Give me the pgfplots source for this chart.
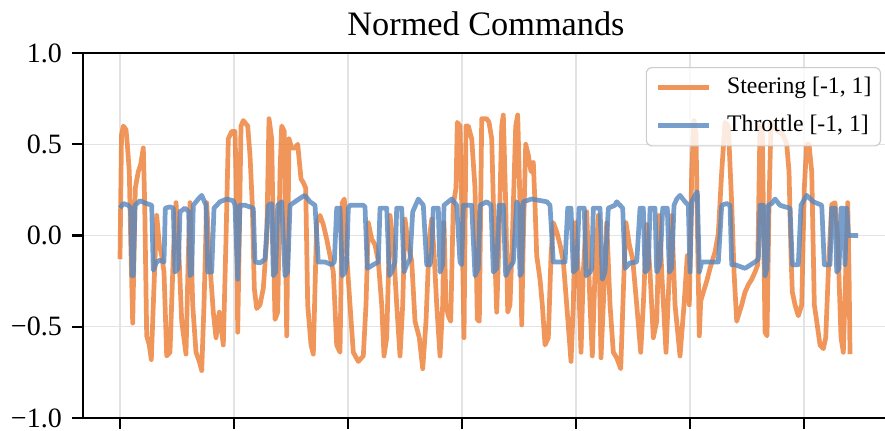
\documentclass[border=0pt]{standalone}
\usepackage{fontspec}
\setmainfont{Liberation Serif}
\usepackage{pgfplots}
\pgfplotsset{compat=1.18}

\definecolor{steer}{RGB}{236,124,49}
\definecolor{throt}{RGB}{86,134,191}

\begin{document}
\begin{tikzpicture}
% visible window of the figure
\useasboundingbox (-29.05pt,-4.2pt) rectangle (280.7pt,146.3pt);
\clip (-29.05pt,-4.2pt) rectangle (280.7pt,146.3pt);
\begin{axis}[
  at={(0pt,0pt)}, anchor=south west,
  scale only axis,
  width=284.9pt, height=127.75pt,
  xmin=-37, xmax=777,
  ymin=-1, ymax=1,
  xtick={0,114,228,342,456,570,684},
  xticklabels={},
  ytick={-1,-0.5,0,0.5,1},
  yticklabels={−1.0,−0.5,0.0,0.5,1.0},
  tick pos=left,
  tick align=outside,
  major tick length=3.9pt,
  every tick/.style={black, line width=0.8pt},
  axis line style={black, line width=0.8pt},
  yticklabel style={font=\fontsize{9.8}{12}\selectfont},
  grid=major,
  major grid style={black!11, line width=0.4pt},
  title={Normed Commands},
  every axis title shift=0pt,
  title style={at={(0,1)}, anchor=base, xshift=141.05pt, yshift=6.3pt,
    font=\fontsize{12}{14}\selectfont},
  legend style={at={(0,1)}, anchor=north east, xshift=279.3pt, yshift=-4.9pt,
    draw=black!20, fill=white, fill opacity=0.8, text opacity=1,
    rounded corners=2pt, line width=0.4pt,
    font=\fontsize{8.3}{10}\selectfont,
    inner xsep=3.15pt, inner ysep=3.2pt, row sep=5.6pt, column sep=5.6pt,
    nodes={inner sep=0pt, text height=6pt, text depth=1.7pt}},
  legend cell align=left,
  legend image code/.code={\draw[#1] (0pt,0pt) -- (17.9pt,0pt);},
  every axis plot/.append style={line width=1.65pt, line join=round, opacity=0.8},
]
\addplot[steer] coordinates {
(0,-0.13) (1.5,0.55) (3.3,0.60) (6,0.58) (7.3,0.50) (9.3,0.35) (10.7,-0.02)
(12.7,-0.48) (14,-0.11) (15.3,0.26) (18.3,0.35) (20.7,0.39) (23.3,0.48)
(24.7,0.17) (26.7,-0.55) (29.3,-0.60) (31.3,-0.68) (33.3,-0.38) (36.7,0.11)
(39.3,-0.05) (41.7,-0.11) (44,-0.20) (46.7,-0.66) (50,-0.64) (53.3,-0.11)
(56,0.18) (58.3,-0.02) (61.7,-0.47) (66,-0.65) (68.3,-0.11) (70,0.18)
(72.7,-0.38) (76,-0.64) (79.3,-0.69) (81.7,-0.74) (84,-0.38) (86.7,0.18)
(89.3,-0.11) (93.3,-0.42) (96,-0.56) (99.3,-0.42) (103.3,-0.60) (106,-0.02)
(108.3,0.53) (111.7,0.57) (115,0.57) (116.7,0.17) (117.7,-0.53) (119,-0.11)
(121,0.60) (123.3,0.63) (127.7,0.60) (130,0.44) (132.3,0.17) (134.3,-0.29)
(136.7,-0.40) (140,-0.38) (143.3,-0.29) (146.7,-0.02) (149,0.64) (151.7,0.53)
(153.3,-0.02) (155,-0.46) (157.7,-0.42) (160,0.35) (161.7,0.60) (164.3,0.57)
(166.7,-0.55) (169,0.53) (171.7,0.48) (175,0.48) (177.7,0.50) (181,0.31)
(183.3,0.29) (185.7,0.26) (187.7,-0.38) (191,-0.60) (193.3,-0.65) (196.7,0.07)
(200,0.11) (203.3,0.06) (206.7,-0.02) (210,-0.11) (213.3,-0.20) (216.7,-0.60)
(220,-0.64) (222.3,0.18) (224.3,0.20) (226.7,-0.11) (230,-0.38) (233.3,-0.64)
(238.3,-0.69) (243.3,-0.66) (246,-0.38) (248.3,0.07) (251.7,-0.02) (255,-0.05)
(258.3,-0.14) (261.7,-0.38) (264,-0.66) (266.7,-0.56) (270,0.11) (273.3,-0.05)
(276.7,-0.38) (280,-0.66) (282.7,-0.38) (285,0.09) (288.3,-0.05) (291.7,-0.14)
(295,-0.47) (299.3,-0.56) (302.7,-0.73) (306,-0.47) (309.3,-0.02) (311.7,0.09)
(314,-0.09) (316.7,-0.38) (320,-0.66) (322.7,-0.38) (324,0.07) (326,-0.38)
(328.3,-0.44) (330.7,-0.47) (333.3,0.17) (336,0.26) (337.3,0.62) (340,0.60)
(341.7,0.17) (344,-0.56) (346,0.60) (348.3,0.60) (351.7,0.53) (355,0.26)
(357.3,-0.46) (359.3,-0.47) (360.7,0.17) (361.7,0.64) (366.7,0.64) (369,0.62)
(371.7,0.53) (374.3,-0.02) (376.7,-0.42) (379,-0.02) (381.7,0.60) (383.3,0.66)
(385.7,0.17) (387.7,-0.42) (390,-0.38) (392.3,-0.02) (395.7,0.60) (397.7,0.66)
(400,0.17) (401.7,-0.49) (403.3,-0.02) (405.7,0.50) (408.3,0.44) (411,0.35)
(413.3,0.40) (415,0.17) (416.7,-0.11) (420,-0.24) (422.3,-0.38) (425,-0.60)
(428.3,-0.56) (431,-0.11) (433.3,0.07) (436.7,0.02) (440,-0.05) (443.3,-0.14)
(446.7,-0.38) (451,-0.69) (453.3,-0.38) (455,0.07) (458.3,-0.20) (461,-0.64)
(463.3,-0.20) (466.7,0.13) (470,-0.38) (472.3,-0.66) (475,-0.20) (478.3,0.11)
(481,-0.67) (483.3,-0.38) (486.7,0.07) (490,-0.38) (493.3,-0.64) (496.7,-0.67)
(500.7,-0.73) (504,-0.20) (506,0.07) (509.3,-0.05) (512.7,-0.13) (516.7,-0.38)
(520.7,-0.64) (523.3,-0.38) (526.7,0.06) (530,-0.20) (533.3,-0.56) (536.7,-0.47)
(539.3,0.11) (541.7,-0.20) (546,-0.64) (549.3,-0.20) (551.7,0.11) (555,-0.38)
(560,-0.66) (564,-0.38) (567.3,-0.11) (569.3,-0.38) (571.7,0.35) (574,0.63)
(576,0.55) (577.3,0.07) (579.3,-0.55) (580.7,-0.36) (583.3,-0.31) (586.7,-0.25)
(590,-0.18) (595,-0.09) (598.3,0.01) (601.7,0.35) (605,0.62) (608.3,0.60)
(611.7,0.17) (614,-0.20) (616.7,-0.47) (618.3,-0.44) (621.7,-0.38) (625,-0.31)
(628.3,-0.27) (631.7,-0.24) (635,-0.20) (637.7,-0.16) (640,0.60) (642.3,0.57)
(645,-0.53) (647,-0.55) (649,0.17) (651,0.62) (653.3,0.60) (658.3,0.57)
(663.3,0.55) (666.7,0.50) (669,0.35) (671,-0.11) (672.3,-0.31) (675,-0.38)
(678.3,-0.44) (681.7,-0.38) (684.3,0.26) (686.7,0.50) (689,0.50) (691.7,0.35)
(694.3,-0.38) (696.7,-0.47) (700,-0.60) (703.3,-0.62) (705.7,-0.56) (708.3,-0.20)
(711.7,0.17) (715,0.18) (717.7,-0.02) (721,-0.56) (723.3,-0.64) (725.7,-0.20)
(727.7,0.18) (729,-0.20) (730,-0.65)
};
\addlegendentry{Steering [-1, 1]}
\addplot[throt] coordinates {
(0,0.15) (3.3,0.175) (8.3,0.166) (10.7,0.15) (12,-0.22) (13.3,-0.22) (15,0.166)
(20,0.19) (26.7,0.175) (31.7,0.166) (33.3,-0.19) (36.7,-0.145) (40,-0.135)
(44,-0.145) (45.3,0.15) (50,0.157) (53.3,0.15) (55,-0.20) (58.3,-0.18) (60,0.13)
(65,0.15) (68.7,0.13) (70,-0.22) (71.7,-0.21) (73.3,0.166) (78.3,0.20)
(81.7,0.22) (86,0.166) (87.7,-0.20) (91.7,-0.20) (94,0.15) (100,0.185)
(106.7,0.20) (113.3,0.19) (115,0.166) (117.7,-0.24) (120,0.166) (125,0.166)
(133.3,0.15) (135,-0.145) (140,-0.15) (145,-0.13) (148.3,0.166) (151.7,0.175)
(153.3,-0.22) (155.7,-0.20) (157.7,0.166) (161.7,0.185) (165,-0.22) (167.7,-0.20)
(170,0.166) (175,0.185) (181.7,0.21) (185,0.22) (190,0.185) (195,0.166)
(198.3,-0.145) (205,-0.145) (211.7,-0.16) (214.3,-0.145) (216.7,0.15) (220,0.15)
(222.3,-0.22) (225,-0.20) (226.7,-0.145) (228.3,0.15) (230,0.166) (243.3,0.166)
(245,0.157) (247.3,-0.18) (253.3,-0.16) (258.3,-0.145) (260,0.15) (266.7,0.15)
(269.3,-0.22) (271.7,-0.20) (275,-0.145) (276.7,0.15) (281.7,0.15) (284,-0.20)
(286.7,-0.16) (290,-0.13) (292.7,0.13) (298.3,0.20) (303.3,0.166) (306.7,-0.16)
(310,-0.16) (311.7,-0.09) (313.3,0.15) (318.3,0.15) (320,-0.20) (322.7,-0.16)
(324,0.166) (328.3,0.185) (331.7,0.20) (336.7,0.166) (340,-0.145) (341.7,-0.16)
(343.3,0.166) (351.7,0.166) (355,-0.22) (358.3,-0.18) (360,0.166) (366.7,0.185)
(371,0.166) (373.3,-0.20) (376.7,-0.18) (379,0.166) (383.3,0.166) (385.7,-0.22)
(389,-0.18) (393.3,-0.145) (396.7,0.185) (398.3,0.166) (400,-0.22) (401.7,-0.20)
(403.3,0.185) (411.7,0.20) (421.7,0.19) (426.7,0.185) (430,0.166) (433.3,-0.145)
(440,-0.145) (445,-0.145) (447.7,0.15) (451,0.15) (453.3,-0.20) (456.7,-0.18)
(459,0.15) (464.3,0.15) (466,-0.22) (470,-0.20) (471.7,-0.18) (473.3,0.15)
(480,0.15) (482.3,-0.24) (485,-0.20) (488.3,0.15) (495,0.166) (496.7,0.185)
(502.7,0.15) (505,-0.18) (510,-0.15) (516.7,-0.145) (520,0.15) (523.3,0.15)
(525,-0.20) (528.3,-0.18) (530,0.15) (535,0.15) (536.7,-0.20) (540,-0.16)
(542.7,0.15) (547.3,0.15) (549.3,-0.20) (551.7,-0.18) (554,0.166) (556.7,0.20)
(560,0.22) (565,0.185) (568.3,0.166) (570,-0.20) (571.7,0.185) (575,0.22)
(577.3,0.24) (579.3,-0.20) (581.7,-0.145) (590,-0.145) (598.3,-0.145)
(601.7,0.166) (606.7,0.175) (610,0.166) (611.7,-0.16) (615,-0.16) (625,-0.18)
(635,-0.145) (638.3,-0.13) (640,0.166) (643.3,0.166) (645,-0.22) (647,-0.18)
(648.3,0.166) (651.7,0.175) (655,0.20) (660,0.166) (665,0.157) (670,0.15)
(672.3,-0.16) (678.3,-0.16) (681,0.166) (686.7,0.22) (693.3,0.185) (701.7,0.166)
(704.3,-0.16) (710,-0.16) (711.7,0.15) (715,0.15) (716.7,-0.20) (719,-0.18)
(721,0.15) (723.3,0.15) (725,-0.16) (726.7,0.15) (728.3,0.0) (738,0.0)
};
\addlegendentry{Throttle [-1, 1]}
\end{axis}
\end{tikzpicture}
\end{document}
